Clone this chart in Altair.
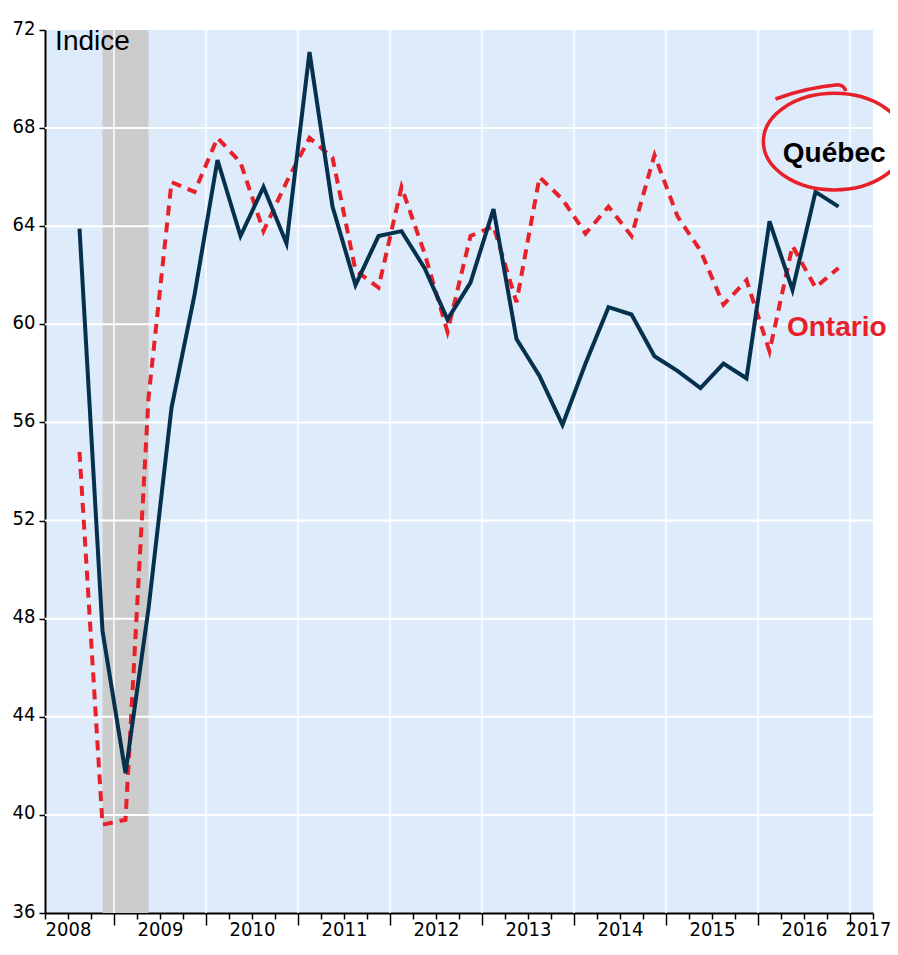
import altair as alt
import pandas as pd

# ---- data (quarterly index) ----
periods = ["2008Q3", "2008Q4", "2009Q1", "2009Q2", "2009Q3", "2009Q4",
           "2010Q1", "2010Q2", "2010Q3", "2010Q4", "2011Q1", "2011Q2",
           "2011Q3", "2011Q4", "2012Q1", "2012Q2", "2012Q3", "2012Q4",
           "2013Q1", "2013Q2", "2013Q3", "2013Q4", "2014Q1", "2014Q2",
           "2014Q3", "2014Q4", "2015Q1", "2015Q2", "2015Q3", "2015Q4",
           "2016Q1", "2016Q2", "2016Q3", "2016Q4"]
quebec = [63.9, 47.5, 41.7, 48.4, 56.6, 61.2, 66.7, 63.6, 65.6, 63.3, 71.1, 64.8,
          61.6, 63.6, 63.8, 62.3, 60.2, 61.7, 64.7, 59.4, 57.9, 55.9, 58.4, 60.7,
          60.4, 58.7, 58.1, 57.4, 58.4, 57.8, 64.2, 61.4, 65.4, 64.8]
ontario = [54.8, 39.6, 39.8, 57.0, 65.8, 65.4, 67.6, 66.6, 63.8, 65.8, 67.6, 66.8,
           62.2, 61.5, 65.6, 62.9, 59.7, 63.6, 64.0, 60.9, 66.0, 65.1, 63.7, 64.8,
           63.6, 66.9, 64.4, 63.0, 60.8, 61.8, 58.9, 63.2, 61.5, 62.3]
recession = ["2008Q4", "2009Q2"]
years = [2009, 2010, 2011, 2012, 2013, 2014, 2015, 2016, 2017]
y_ticks = [36, 40, 44, 48, 52, 56, 60, 64, 68, 72]
y_grid = [40, 44, 48, 52, 56, 60, 64, 68]


def qpos(p):
    return int(p[:4]) + (int(p[-1]) - 0.5) / 4.0


x_lo, x_hi = 2008.25, 2017.25
quarter_ticks = [x_lo + 0.25 * i for i in range(int(round((x_hi - x_lo) / 0.25)) + 1)]

df_q = pd.DataFrame({"x": [qpos(p) for p in periods], "y": quebec})
df_o = pd.DataFrame({"x": [qpos(p) for p in periods], "y": ontario})
df_rec = pd.DataFrame({"x": [qpos(recession[0])], "x2": [qpos(recession[1])]})
df_vg = pd.DataFrame({"x": years})
df_hg = pd.DataFrame({"y": y_grid})

BG = "#DDEBFB"
NAVY = "#05314E"
RED = "#E8202A"
NARROW = "DejaVu Sans Condensed, Liberation Sans, sans-serif"
SANS = "Liberation Sans, Arial, Helvetica, sans-serif"

x_axis = alt.Axis(
    values=quarter_ticks, title=None, grid=False,
    domainColor="black", domainWidth=2,
    tickColor="black", tickWidth=1.5,
    tickSize={"condition": {"test": "datum.value % 1 == 0", "value": 12}, "value": 6},
    labelExpr="datum.value == 2017.25 ? '2017' : (datum.value % 1 == 0.5 ? toString(floor(datum.value)) : '')",
    labelFont=NARROW, labelFontSize=20, labelColor="black",
    labelFlush=False, labelOverlap=False, labelBound=False, labelPadding=16,
    labelBaseline="alphabetic",
    labelOffset={"condition": {"test": "datum.value == 2017.25", "value": -5}, "value": 0},
)
y_axis = alt.Axis(
    values=y_ticks, title=None, grid=False,
    domainColor="black", domainWidth=2,
    tickColor="black", tickWidth=1.5, tickSize=6,
    labelFont=NARROW, labelFontSize=20, labelColor="black",
    labelPadding=4, labelBaseline="alphabetic", labelOffset=4,
    labelOverlap=False, labelFlush=False,
)

xs = alt.Scale(domain=[x_lo, x_hi], nice=False, zero=False)
ys = alt.Scale(domain=[36, 72], nice=False, zero=False)
X = alt.X("x:Q", scale=xs, axis=x_axis)
Y = alt.Y("y:Q", scale=ys, axis=y_axis)

shade = alt.Chart(df_rec).mark_rect(color="#CCCCCC", opacity=1).encode(
    x=X, x2="x2:Q", y=alt.datum(72, scale=ys), y2=alt.datum(36)
)
vgrid = alt.Chart(df_vg).mark_rule(color="white", strokeWidth=1.5).encode(x=X)
hgrid = alt.Chart(df_hg).mark_rule(color="white", strokeWidth=2).encode(y=Y)

line_o = alt.Chart(df_o).mark_line(
    color=RED, strokeWidth=4, strokeDash=[10, 7], strokeCap="butt"
).encode(x=X, y=Y)
line_q = alt.Chart(df_q).mark_line(color=NAVY, strokeWidth=4, strokeJoin="miter").encode(x=X, y=Y)

df_ind = pd.DataFrame({"x": [2008.36], "y": [72.0], "t": ["Indice"]})
t_ind = alt.Chart(df_ind).mark_text(
    align="left", baseline="top", font=SANS, fontSize=28, color="black", dy=-2
).encode(x=X, y=Y, text="t:N")

df_qc = pd.DataFrame({"x": [2016.27], "y": [66.95], "t": ["Québec"]})
t_qc = alt.Chart(df_qc).mark_text(
    align="left", baseline="middle", font=SANS, fontSize=28, fontWeight="bold", color="black"
).encode(x=X, y=Y, text="t:N")

df_on = pd.DataFrame({"x": [2016.315], "y": [59.85], "t": ["Ontario"]})
t_on = alt.Chart(df_on).mark_text(
    align="left", baseline="middle", font=SANS, fontSize=28, fontWeight="bold", color=RED
).encode(x=X, y=Y, text="t:N")

ellipse_path = ("M -1 0 A 1 0.68 0 1 0 1 0 A 1 0.68 0 1 0 -1 0 "
                "M -0.83 -0.6 Q -0.4 -0.76 0.05 -0.8 Q 0.14 -0.79 0.16 -0.71")
df_el = pd.DataFrame({"x": [2016.83], "y": [67.45]})
circle = alt.Chart(df_el).mark_point(
    shape=ellipse_path, size=142 * 142, filled=False, stroke=RED, strokeWidth=3.5, opacity=1
).encode(x=X, y=Y)

chart = alt.layer(
    shade, vgrid, hgrid, line_o, line_q, t_ind, t_qc, t_on, circle
).properties(
    width=828, height=883, autosize="none",
    padding={"left": 37, "top": 22, "right": 17, "bottom": 30},
    background="white",
).configure_view(fill=BG, stroke=None)

chart.save("out.html", embed_options={"renderer": "svg", "actions": False})
